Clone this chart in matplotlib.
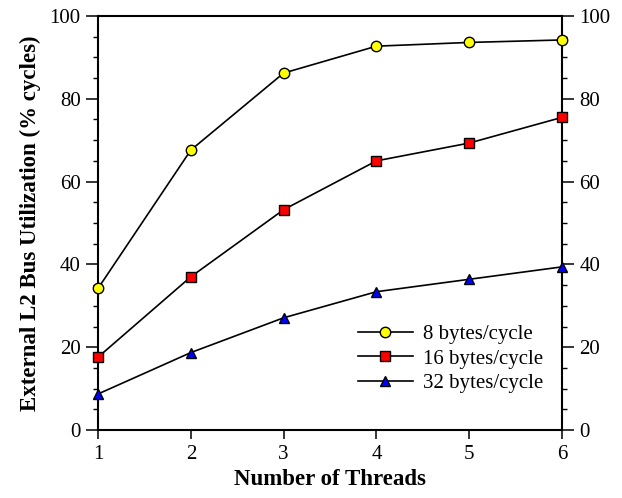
import matplotlib.pyplot as plt
from matplotlib.ticker import MultipleLocator

threads = [1, 2, 3, 4, 5, 6]
util_8 = [34.2, 67.6, 86.2, 92.7, 93.6, 94.2]
util_16 = [17.6, 37.0, 53.2, 65.0, 69.3, 75.5]
util_32 = [8.7, 18.7, 27.1, 33.4, 36.4, 39.4]

plt.rcParams['font.family'] = 'Liberation Serif'

fig = plt.figure(figsize=(6.22, 4.98), dpi=100)
ax = fig.add_axes([0.1576, 0.1365, 0.7459, 0.8315])

style = dict(color='black', markeredgecolor='black', markersize=7.5, linewidth=1.2,
             markeredgewidth=1.0, clip_on=False, zorder=3)
ax.plot(threads, util_8, marker='o', markerfacecolor='yellow', label='8 bytes/cycle', **style)
ax.plot(threads, util_16, marker='s', markerfacecolor='red', label='16 bytes/cycle', **style)
ax.plot(threads, util_32, marker='^', markerfacecolor='blue', label='32 bytes/cycle', **style)

ax.set_xlim(1, 6)
ax.set_ylim(0, 100)
ax.xaxis.set_major_locator(MultipleLocator(1))
ax.yaxis.set_major_locator(MultipleLocator(20))
ax.yaxis.set_minor_locator(MultipleLocator(5))
ax.tick_params(axis='both', which='major', direction='out', width=1.1, labelsize=15)
ax.tick_params(axis='y', which='major', length=8.6, pad=4)
ax.tick_params(axis='x', which='major', length=6.5, pad=4)
ax.tick_params(axis='y', which='minor', direction='out', length=3.6, width=1)
ax.tick_params(axis='y', which='both', right=True, labelright=True)
ax.tick_params(axis='x', which='both', top=False)
for s in ax.spines.values():
    s.set_linewidth(1.5)

ax.set_xlabel('Number of Threads', fontsize=16.5, fontweight='bold', labelpad=4)
ax.set_ylabel('External L2 Bus Utilization (% cycles)', fontsize=16.5, fontweight='bold', labelpad=6)

ax.legend(loc='center left', bbox_to_anchor=(0.56, 0.172), frameon=False, fontsize=15,
          handlelength=2.64, handletextpad=0.48, labelspacing=0.25,
          borderpad=0, borderaxespad=0)

fig.savefig('out.png', dpi=100)
